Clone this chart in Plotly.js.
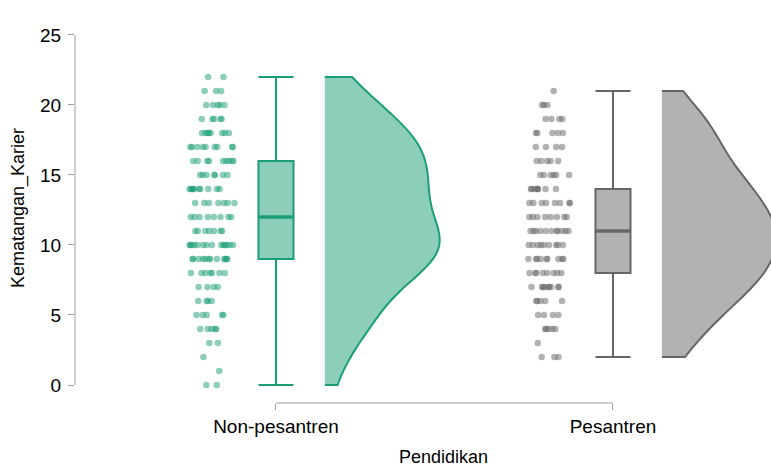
<!DOCTYPE html>
<html>
<head>
<meta charset="utf-8">
<script src="https://cdn.plot.ly/plotly-3.0.1.min.js"></script>
<style>html,body{margin:0;padding:0;background:#fff;}#chart{width:771px;height:466px;}</style>
</head>
<body>
<div id="chart"></div>
<script>
// ---- Data ----
const categories = ["Non-pesantren", "Pesantren"];
const scoreLevels = [0,1,2,3,4,5,6,7,8,9,10,11,12,13,14,15,16,17,18,19,20,21,22];
// number of respondents at each score (Kematangan_Karier)
const nonPesantrenCounts = [2,1,1,2,5,5,4,4,7,12,14,7,8,7,10,7,9,9,8,5,5,3,2];
const pesantrenCounts    = [0,0,3,1,5,4,5,9,8,9,9,11,8,8,8,6,5,4,5,4,3,1,0];
const yTicks = [0,5,10,15,20,25];

function expand(levels, counts){
  const out = [];
  levels.forEach((v,i)=>{ for(let k=0;k<counts[i];k++) out.push(v); });
  return out;
}
function median(arr){
  const s = arr.slice().sort((a,b)=>a-b), n = s.length;
  return n % 2 ? s[(n-1)/2] : (s[n/2-1] + s[n/2]) / 2;
}
const groups = [expand(scoreLevels, nonPesantrenCounts), expand(scoreLevels, pesantrenCounts)];

// ---- Styling ----
const lineColors = ["#1b9e77", "#666666"];
const fillColors = ["rgba(27,158,119,0.5)", "rgba(102,102,102,0.5)"];
const pointColors = ["rgba(27,158,119,0.5)", "rgba(102,102,102,0.5)"];
const POINT_OFFSET = -0.19, POINT_WIDTH = 0.16;
const BOX_WIDTH = 0.104;
const VIOLIN_OFFSET = 0.145, VIOLIN_WIDTH = 0.68;
const FONT = "Liberation Sans, Arial, sans-serif";

const traces = [];
groups.forEach((vals, i) => {
  const pos = i + 1;
  // jittered raw points
  traces.push({
    type: "box", y: vals, x0: pos + POINT_OFFSET, width: POINT_WIDTH,
    boxpoints: "all", jitter: 1, pointpos: 0,
    fillcolor: "rgba(0,0,0,0)", line: {width: 0, color: "rgba(0,0,0,0)"},
    marker: {size: 6.5, color: pointColors[i], line: {width: 0}},
    showlegend: false, hoverinfo: "y"
  });
  // boxplot
  traces.push({
    type: "box", y: vals, x0: pos, width: BOX_WIDTH, whiskerwidth: 1,
    boxpoints: false, fillcolor: fillColors[i],
    line: {width: 2, color: lineColors[i]},
    showlegend: false
  });
  // thicker median bar
  const m = median(vals);
  traces.push({
    type: "scatter", mode: "lines",
    x: [pos - BOX_WIDTH/2, pos + BOX_WIDTH/2], y: [m, m],
    line: {width: 3.5, color: lineColors[i]},
    showlegend: false, hoverinfo: "skip"
  });
  // half violin
  traces.push({
    type: "violin", y: vals, x0: pos + VIOLIN_OFFSET, width: VIOLIN_WIDTH,
    side: "positive", spanmode: "hard", points: false,
    box: {visible: false}, meanline: {visible: false},
    fillcolor: fillColors[i], line: {width: 2, color: lineColors[i]},
    showlegend: false
  });
});

const layout = {
  width: 771, height: 466,
  margin: {l: 75, r: 0, t: 13, b: 63},
  paper_bgcolor: "#fff", plot_bgcolor: "#fff",
  showlegend: false,
  font: {family: FONT, color: "#000"},
  xaxis: {
    range: [0.4036, 2.4689], tickvals: [1, 2], ticktext: categories,
    showgrid: false, zeroline: false, showline: false,
    ticks: "outside", ticklen: 6, tickcolor: "#9e9e9e", tickwidth: 1,
    tickfont: {size: 19, color: "#000"}
  },
  yaxis: {
    range: [-1.286, 26.57], tickvals: yTicks,
    showgrid: false, zeroline: false, showline: false,
    ticks: "outside", ticklen: 6, tickcolor: "#9e9e9e", tickwidth: 1,
    ticklabelstandoff: 3,
    tickfont: {size: 19, color: "#000"},
    title: {text: "Kematangan_Karier", font: {size: 18, color: "#000"}, standoff: 10}
  },
  shapes: [
    {type: "line", xref: "paper", yref: "y", x0: 0, x1: 0, y0: yTicks[0], y1: yTicks[yTicks.length-1],
     line: {color: "#9e9e9e", width: 1}},
    {type: "line", xref: "x", yref: "paper", x0: 1, x1: 2, y0: 0, y1: 0,
     line: {color: "#9e9e9e", width: 1}}
  ],
  annotations: [
    {text: "Pendidikan", xref: "paper", yref: "paper", x: 0.53, y: 0, yshift: -54,
     showarrow: false, xanchor: "center", yanchor: "middle", font: {size: 18, color: "#000"}}
  ]
};

Plotly.newPlot("chart", traces, layout, {displayModeBar: false, staticPlot: true});
</script>
</body>
</html>
